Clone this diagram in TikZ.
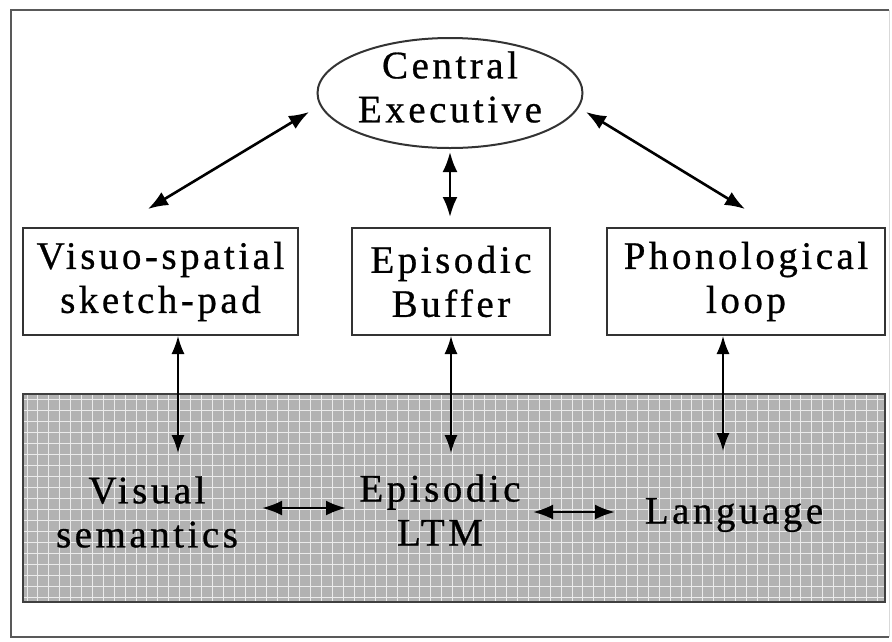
\documentclass[tikz,border=0pt]{standalone}
\usepackage{fontspec}
\setmainfont{Liberation Serif}[LetterSpace=9,FakeBold=0.7]
\usetikzlibrary{arrows.meta,calc,shapes.geometric}
\begin{document}
\begin{tikzpicture}[x=1pt,y=-1pt,
  lbl/.style={font=\fontsize{39}{44}\selectfont, align=center, inner sep=0pt, text=black},
  box/.style={lbl, draw=black!80, line width=2pt, minimum height=107pt},
  dbl/.style={{Latex[length=20pt,width=15pt]}-{Latex[length=20pt,width=15pt]}, line width=2.6pt, black},
  vconn/.style={{Latex[length=18pt,width=13pt]}-{Latex[length=18pt,width=13pt]}, line width=1.6pt, black},
  gridline/.style={white!92!black, line width=1pt}]
\useasboundingbox (0,0) rectangle (892,641);
% outer frame
\draw[black!65, line width=2pt] (889,10) -- (11,10) -- (11,637) -- (889,637);
\draw[black!15, line width=1pt] (889,10) -- (889,637);
% shaded long-term store
\fill[black!30] (23,394) rectangle (885,602);
\begin{scope}
  \clip (23,394) rectangle (885,602);
  \foreach \i in {0,...,80} \draw[gridline] ({27+10.9*\i},394) -- ++(0,208);
  \foreach \j in {0,...,19} \draw[gridline] (23,{399+11*\j}) -- ++(862,0);
\end{scope}
\draw[black!75, line width=2pt] (23,394) rectangle (885,602);
% nodes
\node[ellipse, draw=black!80, line width=2pt, minimum width=265pt, minimum height=110pt, inner sep=0pt] (ce) at (450,93) {};
\node[lbl] (cetext) at (450,87) {Central\\Executive};
\node[box, minimum width=275pt] (vs) at (160.5,281.5) {Visuo-spatial\\sketch-pad};
\node[box, minimum width=198pt] (eb) at (451,281.5) {Episodic\\Buffer};
\node[box, minimum width=278pt] (pl) at (746,281.5) {Phonological\\loop};
\node[lbl] (vsem) at (147,512) {Visual\\semantics};
\node[lbl] (eltm) at (440,510) {Episodic\\LTM};
\node[lbl] (lang) at (734,515) {Language};
% connectors
\draw[dbl] ([shift={(-12.5,-18)}]vs.north) -- ([shift={(-7.5,19)}]ce.west);
\draw[dbl] ([shift={(2.5,19)}]ce.east) -- ([shift={(-1,-18)}]pl.north);
\draw[dbl] ([shift={(0,3)}]ce.south) -- ([shift={(-1,-10)}]eb.north);
\draw[vconn] ([xshift=17.5pt]vs.south) -- ++(0,117);
\draw[vconn] (eb.south) -- ++(0,117);
\draw[vconn] ([xshift=-23pt]pl.south) -- ++(0,115);
\coordinate (h1a) at (262,508);
\coordinate (h1b) at (346,508);
\coordinate (h2a) at (533,512);
\coordinate (h2b) at (615,512);
\draw[dbl] (h1a) -- (h1b);
\draw[dbl] (h2a) -- (h2b);
\end{tikzpicture}
\end{document}
